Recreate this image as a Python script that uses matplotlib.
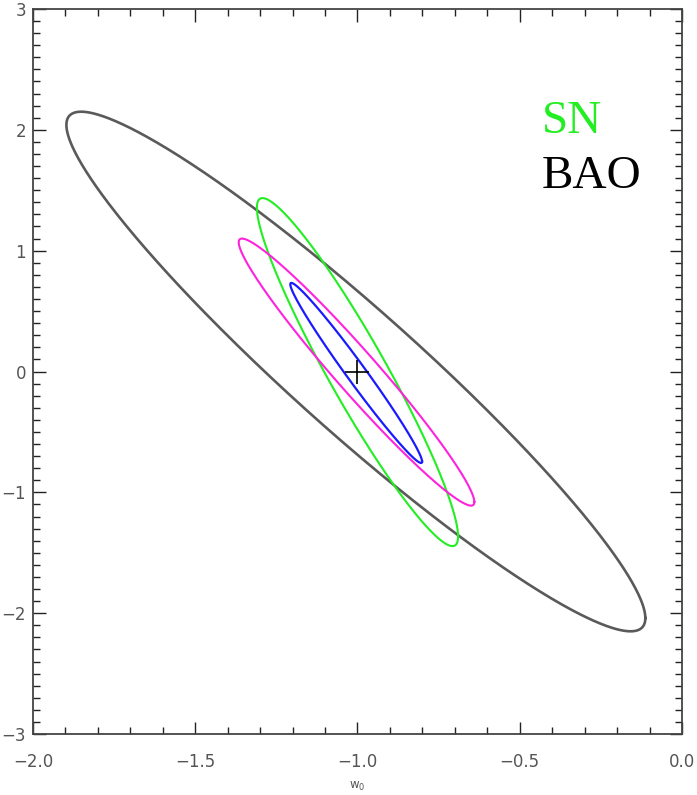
import numpy as np
import matplotlib
matplotlib.use('Agg')
import matplotlib.pyplot as plt
from matplotlib.ticker import MultipleLocator

# ellipses: centre, sigma_x, sigma_y, correlation
nomes = ['BAO', 'SN', 'magenta', 'combinado']
cores = ['#5a5a5a', '#22ee22', '#ff22dd', '#1a1aff']
centro_x = [-1.005, -1.0, -1.003, -1.004]
centro_y = [0.0, -0.005, -0.005, -0.012]
sigma_x = [0.892, 0.31, 0.363, 0.203]
sigma_y = [2.15, 1.44, 1.105, 0.745]
rho = [-0.949, -0.944, -0.972, -0.984]
larguras = [1.9, 1.5, 1.5, 1.6]

fiducial_x = -1.0
fiducial_y = 0.0

fig = plt.figure(figsize=(6.97, 7.95), dpi=100)
ax = fig.add_axes([0.0473, 0.0767, 0.9312, 0.912])

t = np.linspace(0, 2 * np.pi, 600)
for cx, cy, sx, sy, r, cor, lw in zip(centro_x, centro_y, sigma_x, sigma_y, rho, cores, larguras):
    x = cx + sx * np.cos(t)
    y = cy + sy * (r * np.cos(t) + np.sqrt(1 - r ** 2) * np.sin(t))
    ax.plot(x, y, color=cor, lw=lw)

ax.plot(fiducial_x, fiducial_y, marker='+', color='black', markersize=17, mew=1.2)

ax.set_xlim(-2.0, 0.0)
ax.set_ylim(-3, 3)
ax.xaxis.set_major_locator(MultipleLocator(0.5))
ax.xaxis.set_minor_locator(MultipleLocator(0.1))
ax.yaxis.set_major_locator(MultipleLocator(1))
ax.yaxis.set_minor_locator(MultipleLocator(0.1))
ax.xaxis.set_major_formatter(plt.FuncFormatter(lambda v, p: f'{v:.1f}'.replace('-', '\u2212')))
ax.tick_params(which='both', direction='in', top=True, right=True, color='#222222',
               labelcolor='#555555', labelsize=12, width=1.0)
ax.tick_params(which='major', length=9)
ax.tick_params(which='minor', length=5)
ax.tick_params(axis='x', pad=14)
ax.tick_params(axis='y', pad=5)
for s in ax.spines.values():
    s.set_color('#444444')
    s.set_linewidth(1.3)

ax.set_xlabel('w$_0$', fontsize=8.5, color='#555555', labelpad=6)

ax.text(0.784, 0.829, 'SN', transform=ax.transAxes, color='#22ee22',
        fontsize=34, family='Liberation Serif')
ax.text(0.784, 0.753, 'BAO', transform=ax.transAxes, color='black',
        fontsize=34, family='Liberation Serif')

plt.savefig('out.png', dpi=100)
